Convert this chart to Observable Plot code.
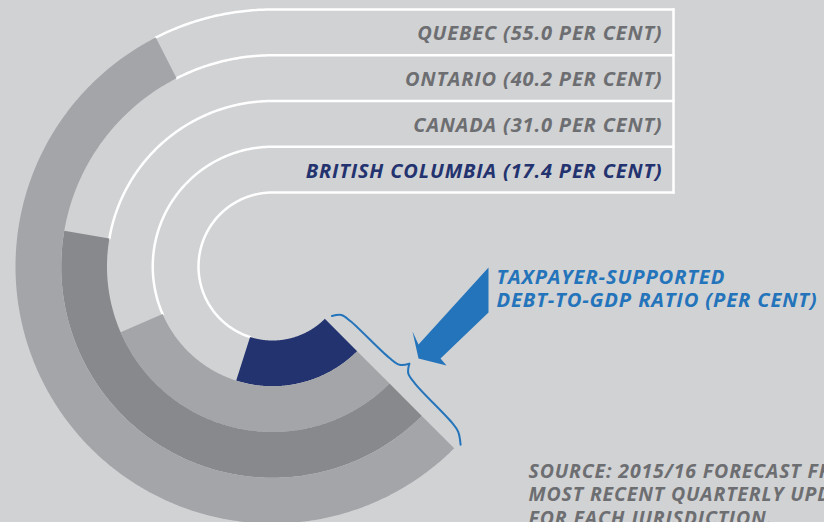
<!DOCTYPE html>
<html>
<head>
<meta charset="utf-8">
<script src="https://cdn.jsdelivr.net/npm/d3@7"></script>
<script src="https://cdn.jsdelivr.net/npm/@observablehq/plot@0.6"></script>
<style>
  html, body { margin: 0; padding: 0; background: #d1d2d4; overflow: hidden; }
  #chart { width: 824px; height: 522px; overflow: hidden; }
  #chart svg text { letter-spacing: 0.85px; }
</style>
</head>
<body>
<div id="chart"></div>
<script>
// ---- data ----
const jurisdictions = ["British Columbia", "Canada", "Ontario", "Quebec"];
const debtToGdp = [17.4, 31.0, 40.2, 55.0];
const ringColors = ["#23336f", "#a4a5a8", "#88898c", "#a4a5a8"];
const labelColors = ["#23336f", "#6d6e71", "#6d6e71", "#6d6e71"];
const annotationLines = ["TAXPAYER-SUPPORTED", "DEBT-TO-GDP RATIO (PER CENT)"];
const sourceLines = ["SOURCE: 2015/16 FORECAST FROM", "MOST RECENT QUARTERLY UPDATE", "FOR EACH JURISDICTION."];

// ---- layout ----
const W = 824, H = 522, cx = 272, cy = 266;
const innerR = 74, ringW = 45.75, rowRight = 401, labelRight = 390;
const endAngle = Math.PI / 4;                 // all bars end on the lower-right diagonal
const angle = d3.scaleLinear().domain([0, 100]).range([0, 2 * Math.PI]); // 100 % = full turn
const FONT = "'Open Sans', 'Noto Sans', sans-serif";

const rows = jurisdictions.map((name, i) => ({
  name, i, value: debtToGdp[i],
  r0: innerR + i * ringW, r1: innerR + (i + 1) * ringW,
  start: endAngle + angle(debtToGdp[i])
}));

function arcPts(r, a0, a1) {
  const n = Math.max(2, Math.ceil(Math.abs(a1 - a0) / (Math.PI / 360)));
  return d3.range(n + 1).map(k => {
    const a = a0 + (a1 - a0) * k / n;
    return {x: r * Math.cos(a), y: r * Math.sin(a)};
  });
}

// white track outlines (boundary k between ring k-1 and ring k)
const tracks = d3.range(rows.length + 1).map(k => {
  const r = innerR + k * ringW;
  const adj = rows.filter(d => d.i === k || d.i === k - 1);
  const stop = d3.max(adj, d => d.start);
  return [{x: rowRight, y: -r}, {x: 0, y: -r}, ...arcPts(r, 3 * Math.PI / 2, stop)];
});

// filled annular sectors
const sectors = rows.map(d => [...arcPts(d.r1, endAngle, d.start), ...arcPts(d.r0, d.start, endAngle)]);

// brace along the diagonal (u along the radius, v perpendicular)
const uv = ([u, v]) => ({x: (u + v) * Math.SQRT1_2, y: (u - v) * Math.SQRT1_2});
const rIn = innerR, rOut = innerR + rows.length * ringW, rMid = (rIn + rOut) / 2;
const braceA = [[rIn + 3, 7], [rIn + 9, 14.5], [rIn + 20, 16.5], [rMid - 18, 18], [rMid - 6, 20.5], [rMid, 28]].map(uv);
const braceB = [[rMid, 28], [rMid + 6, 20.5], [rMid + 18, 18], [rOut - 20, 16.5], [rOut - 9, 14.5], [rOut + 2, 7]].map(uv);

// block arrow pointing to the brace
const arrow = [[216, 1], [146, 78], [140, 65], [146, 92], [174, 99], [168, 92], [216, 46]].map(([x, y]) => ({x, y}));

const marks = [
  ...tracks.map(t => Plot.line(t, {x: "x", y: "y", stroke: "#ffffff", strokeWidth: 2.5, curve: "linear"})),
  Plot.line([{x: rowRight, y: -rOut}, {x: rowRight, y: -rIn}], {x: "x", y: "y", stroke: "#ffffff", strokeWidth: 2.5, strokeLinecap: "square"}),
  ...sectors.map((s, i) => Plot.line(s, {x: "x", y: "y", fill: ringColors[i], stroke: "none", curve: "linear-closed"})),
  Plot.text(rows, {
    x: labelRight, y: d => -(d.r0 + d.r1) / 2 + 8,
    text: d => `${d.name.toUpperCase()} (${d.value.toFixed(1)} PER CENT)`,
    fill: d => labelColors[d.i], textAnchor: "end", lineAnchor: "bottom",
    fontFamily: FONT, fontSize: 20, fontWeight: "bold", fontStyle: "italic"
  }),
  Plot.line(braceA, {x: "x", y: "y", stroke: "#2474bb", strokeWidth: 2, curve: "catmull-rom"}),
  Plot.line(braceB, {x: "x", y: "y", stroke: "#2474bb", strokeWidth: 2, curve: "catmull-rom"}),
  Plot.line(arrow, {x: "x", y: "y", fill: "#2474bb", stroke: "none", curve: "linear-closed"}),
  Plot.text([annotationLines.join("\n")], {
    x: 224, y: 40.5, text: d => d,
    fill: "#2474bb", textAnchor: "start", lineAnchor: "bottom", lineHeight: 23.5 / 20.2,
    fontFamily: FONT, fontSize: 20.2, fontWeight: "bold", fontStyle: "italic"
  }),
  Plot.text([sourceLines.join("\n")], {
    x: 256, y: 258, text: d => d,
    fill: "#6d6e71", textAnchor: "start", lineAnchor: "bottom", lineHeight: 23.5 / 19.5,
    fontFamily: FONT, fontSize: 19.5, fontWeight: "bold", fontStyle: "italic"
  })
];

const chart = Plot.plot({
  width: W, height: H, margin: 0,
  x: {domain: [-cx, W - cx], range: [0, W], axis: null},
  y: {domain: [-cy, H - cy], range: [0, H], axis: null},
  color: {type: "identity"},
  style: {background: "#d1d2d4", overflow: "hidden"},
  marks
});
document.getElementById("chart").appendChild(chart);
</script>
</body>
</html>
